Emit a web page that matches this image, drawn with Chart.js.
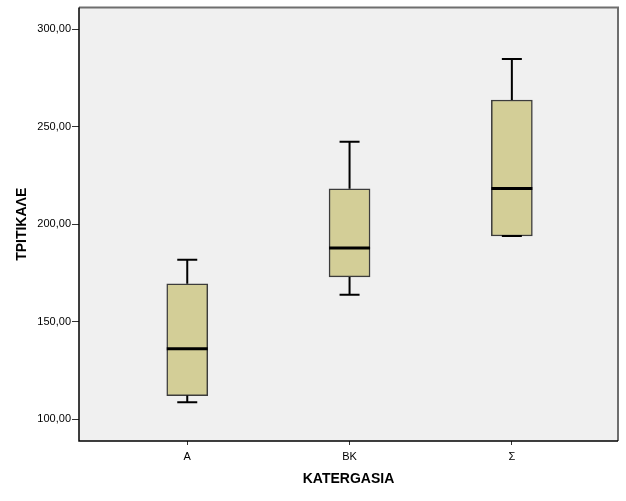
<!DOCTYPE html>
<html>
<head>
<meta charset="utf-8">
<script src="https://cdn.jsdelivr.net/npm/chart.js@4/dist/chart.umd.min.js"></script>
<style>
  html, body { margin: 0; padding: 0; background: #fff; }
  #wrap { width: 626px; height: 501px; }
</style>
</head>
<body>
<div id="wrap"><canvas id="c" width="626" height="501"></canvas></div>
<script>
// boxplot values
var categories = ['Α', 'ΒΚ', 'Σ'];
var whiskerLow = [108.7, 163.8, 194.0];
var q1 = [112.1, 173.0, 194.0];
var median = [136.2, 187.9, 218.4];
var q3 = [169.5, 218.2, 263.8];
var whiskerHigh = [181.8, 242.3, 284.8];
var yTicks = [100, 150, 200, 250, 300];

var FONT = '"Liberation Sans", Arial, sans-serif';

// plot background + gray top/right frame
var frame = {
  id: 'frame',
  beforeDraw: function (c) {
    var a = c.chartArea, ctx = c.ctx;
    ctx.save();
    ctx.fillStyle = '#f0f0f0';
    ctx.fillRect(a.left, a.top, a.right - a.left, a.bottom - a.top);
    ctx.restore();
  },
  afterDraw: function (c) {
    var a = c.chartArea, ctx = c.ctx;
    ctx.save();
    ctx.strokeStyle = '#6e6e6e'; ctx.lineWidth = 2;
    ctx.beginPath();
    ctx.moveTo(a.left, a.top); ctx.lineTo(a.right, a.top); ctx.lineTo(a.right, a.bottom);
    ctx.stroke();
    ctx.strokeStyle = '#000'; ctx.lineWidth = 1.5;
    ctx.beginPath();
    ctx.moveTo(a.left, a.top); ctx.lineTo(a.left, a.bottom); ctx.lineTo(a.right, a.bottom);
    ctx.stroke();
    ctx.restore();
  }
};

// whiskers, caps and medians on top of the boxes
var whiskers = {
  id: 'whiskers',
  afterDatasetsDraw: function (c) {
    var xs = c.scales.x, ys = c.scales.y, ctx = c.ctx;
    ctx.save();
    ctx.strokeStyle = '#000';
    categories.forEach(function (cat, i) {
      var x = xs.getPixelForValue(i);
      ctx.lineWidth = 2;
      ctx.beginPath();
      ctx.moveTo(x, ys.getPixelForValue(q3[i])); ctx.lineTo(x, ys.getPixelForValue(whiskerHigh[i]));
      ctx.moveTo(x - 10, ys.getPixelForValue(whiskerHigh[i])); ctx.lineTo(x + 10, ys.getPixelForValue(whiskerHigh[i]));
      ctx.moveTo(x, ys.getPixelForValue(q1[i])); ctx.lineTo(x, ys.getPixelForValue(whiskerLow[i]));
      ctx.moveTo(x - 10, ys.getPixelForValue(whiskerLow[i])); ctx.lineTo(x + 10, ys.getPixelForValue(whiskerLow[i]));
      ctx.stroke();
      ctx.lineWidth = 3;
      ctx.beginPath();
      ctx.moveTo(x - 20.5, ys.getPixelForValue(median[i])); ctx.lineTo(x + 20.5, ys.getPixelForValue(median[i]));
      ctx.stroke();
    });
    ctx.restore();
  }
};

new Chart(document.getElementById('c').getContext('2d'), {
  type: 'bar',
  data: {
    datasets: [{
      data: categories.map(function (cat, i) { return { x: i, y: [q1[i], q3[i]] }; }),
      backgroundColor: '#d3ce97',
      borderColor: '#3c3c3c',
      borderWidth: 1.5,
      borderSkipped: false,
      barThickness: 41
    }]
  },
  plugins: [frame, whiskers],
  options: {
    responsive: false,
    animation: false,
    layout: { padding: { left: 0, right: 8, top: 5, bottom: 0 } },
    plugins: { legend: { display: false }, tooltip: { enabled: false } },
    scales: {
      x: {
        type: 'linear',
        offset: false,
        min: -0.667, max: 2.654,
        afterBuildTicks: function (s) { s.ticks = categories.map(function (c, i) { return { value: i }; }); },
        afterFit: function (s) { s.height = 60; },
        grid: { offset: false, drawOnChartArea: false, tickLength: 4, color: '#333', tickWidth: 1 },
        border: { display: false },
        ticks: {
          padding: 5, color: '#000', font: { family: FONT, size: 11 },
          callback: function (v) { return categories[v]; }
        },
        title: {
          display: true, text: 'KATERGASIA', color: '#000',
          font: { family: FONT, size: 14, weight: 'bold' },
          padding: { top: 0, bottom: 13.6 }
        }
      },
      y: {
        min: 88.8, max: 311.2,
        afterBuildTicks: function (s) { s.ticks = yTicks.map(function (v) { return { value: v }; }); },
        afterFit: function (s) { s.width = 79; },
        grid: { drawOnChartArea: false, tickLength: 7, color: '#333', tickWidth: 1 },
        border: { display: false },
        ticks: {
          padding: 1, color: '#000', font: { family: FONT, size: 11 },
          callback: function (v) { return v.toFixed(2).replace('.', ','); }
        },
        title: {
          display: true, text: 'ΤΡΙΤΙΚΑΛΕ', color: '#000',
          font: { family: FONT, size: 14, weight: 'bold' },
          padding: { top: 13.6, bottom: 0 }
        }
      }
    }
  }
});
</script>
</body>
</html>
